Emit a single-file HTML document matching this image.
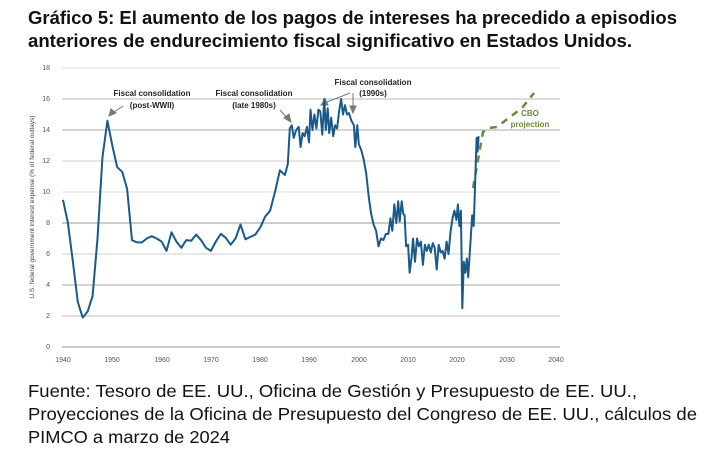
<!DOCTYPE html>
<html><head><meta charset="utf-8"><style>
body{margin:0;background:#fff;width:728px;height:462px;overflow:hidden;font-family:"Liberation Sans",sans-serif}
</style></head><body>
<svg width="728" height="462" xmlns="http://www.w3.org/2000/svg" font-family="Liberation Sans, sans-serif">
<text x="28" y="24" font-size="18" font-weight="bold" fill="#111" textLength="649" lengthAdjust="spacingAndGlyphs">Gráfico 5: El aumento de los pagos de intereses ha precedido a episodios</text>
<text x="28" y="47" font-size="18" font-weight="bold" fill="#111" textLength="604" lengthAdjust="spacingAndGlyphs">anteriores de endurecimiento fiscal significativo en Estados Unidos.</text>
<g stroke-width="1">
<line x1="62" x2="560" y1="68" y2="68" stroke="#ddd"/>
<line x1="62" x2="560" y1="99" y2="99" stroke="#bbb"/>
<line x1="62" x2="560" y1="130" y2="130" stroke="#aaa"/>
<line x1="62" x2="560" y1="161" y2="161" stroke="#ccc"/>
<line x1="62" x2="560" y1="192" y2="192" stroke="#ddd"/>
<line x1="62" x2="560" y1="223" y2="223" stroke="#999"/>
<line x1="62" x2="560" y1="254" y2="254" stroke="#ccc"/>
<line x1="62" x2="560" y1="285" y2="285" stroke="#aaa"/>
<line x1="62" x2="560" y1="316" y2="316" stroke="#bbb"/>
<line x1="62" x2="560" y1="347" y2="347" stroke="#999"/>
</g>
<g font-size="7" fill="#555" text-anchor="end">
<text x="50" y="70">18</text><text x="50" y="101">16</text><text x="50" y="132">14</text><text x="50" y="163">12</text><text x="50" y="194">10</text><text x="50" y="225">8</text><text x="50" y="256">6</text><text x="50" y="287">4</text><text x="50" y="318">2</text><text x="50" y="349">0</text>
</g>
<g font-size="7" fill="#555" text-anchor="middle">
<text x="63" y="362">1940</text><text x="112" y="362">1950</text><text x="162" y="362">1960</text><text x="211" y="362">1970</text><text x="260" y="362">1980</text><text x="309" y="362">1990</text><text x="359" y="362">2000</text><text x="408" y="362">2010</text><text x="457" y="362">2020</text><text x="507" y="362">2030</text><text x="556" y="362">2040</text>
</g>
<text transform="translate(34,207) rotate(-90)" font-size="6.5" fill="#444" text-anchor="middle">U.S. federal government interest expense (% of federal outlays)</text>
<g font-size="8" font-weight="bold" fill="#222" text-anchor="middle">
<text x="152" y="96">Fiscal consolidation</text><text x="152" y="108">(post-WWII)</text>
<text x="254" y="96">Fiscal consolidation</text><text x="254" y="108">(late 1980s)</text>
<text x="373" y="85">Fiscal consolidation</text><text x="373" y="96">(1990s)</text>
</g>
<g stroke="#777" stroke-width="1" fill="#777">
<line x1="123" y1="106" x2="114" y2="112"/><polygon points="109,116 111,109 116,113"/>
<line x1="280" y1="110" x2="287" y2="118"/><polygon points="291,122 284,118 289,114"/>
<line x1="350" y1="93" x2="327" y2="102"/><polygon points="321,105 325,99 328,105"/>
<line x1="353" y1="93" x2="353" y2="107"/><polygon points="353,113 350,106 356,106"/>
</g>
<text x="530" y="116" font-size="8" font-weight="bold" fill="#6a8a3a" text-anchor="middle">CBO</text>
<text x="530" y="127" font-size="8" font-weight="bold" fill="#6a8a3a" text-anchor="middle">projection</text>
<polyline fill="none" stroke="#6a8a3a" stroke-width="2.5" stroke-dasharray="7,6" points="473,188 478,160 483,132 489,128 497,127 510,117 522,108 534,93"/>
<polyline id="s" fill="none" stroke="#1a5a8a" stroke-width="2" stroke-linejoin="round"/>
<text x="28" y="397" font-size="17.5" fill="#111" textLength="609" lengthAdjust="spacingAndGlyphs">Fuente: Tesoro de EE. UU., Oficina de Gestión y Presupuesto de EE. UU.,</text>
<text x="28" y="420" font-size="17.5" fill="#111" textLength="669" lengthAdjust="spacingAndGlyphs">Proyecciones de la Oficina de Presupuesto del Congreso de EE. UU., cálculos de</text>
<text x="28" y="443" font-size="17.5" fill="#111" textLength="202" lengthAdjust="spacingAndGlyphs">PIMCO a marzo de 2024</text>
</svg>
<script>
var d=[[1940,9.5],[1941,8],[1942,5.5],[1943,2.9],[1944,1.9],[1945,2.3],[1946,3.3],[1947,7],[1948,12.2],[1949,14.6],[1950,13],[1951,11.6],[1952,11.3],[1953,10.2],[1954,6.9],[1955,6.75],[1956,6.75],[1957,7],[1958,7.15],[1959,7],[1960,6.8],[1961,6.2],[1962,7.4],[1963,6.8],[1964,6.4],[1965,6.9],[1966,6.85],[1967,7.25],[1968,6.9],[1969,6.4],[1970,6.2],[1971,6.8],[1972,7.3],[1973,7.05],[1974,6.6],[1975,7],[1976,7.9],[1977,6.95],[1978,7.1],[1979,7.25],[1980,7.7],[1981,8.4],[1982,8.8],[1983,10],[1984,11.4],[1985,11.1],[1985.6,11.8],[1986,14.1],[1986.4,14.3],[1986.8,13.5],[1987.3,14],[1987.8,14.2],[1988.2,12.9],[1988.6,13.8],[1989,13.6],[1989.5,14.2],[1989.9,13.2],[1990.2,15.3],[1990.6,14],[1991,15],[1991.4,14.1],[1991.8,15.3],[1992.2,15.2],[1992.6,13.7],[1993,16],[1993.3,14],[1993.7,15.4],[1994,13.8],[1994.4,14.8],[1994.8,13.6],[1995.2,14.3],[1995.6,14.1],[1996,15.2],[1996.4,16],[1996.8,15],[1997.2,15.6],[1997.6,15],[1998,15.1],[1998.5,14.6],[1999,14.3],[1999.3,12.9],[1999.7,14.3],[2000,13.1],[2000.5,12.7],[2001,12.1],[2001.5,11.2],[2002,9.7],[2002.5,8.6],[2003,7.9],[2003.5,7.5],[2004,6.5],[2004.5,7],[2005,6.9],[2005.5,7.3],[2006,7.3],[2006.4,8.3],[2006.8,7.5],[2007.2,9.2],[2007.6,8],[2008,9.4],[2008.3,8.1],[2008.7,9.4],[2009,8.6],[2009.3,8.5],[2009.6,6.5],[2010,6.6],[2010.3,4.8],[2010.7,5.8],[2011,7],[2011.4,5.5],[2011.8,7],[2012.2,6.5],[2012.6,6.8],[2013,5.3],[2013.4,6.6],[2013.8,6.2],[2014.2,6.6],[2014.6,6.1],[2015,6.7],[2015.4,6.4],[2015.8,5],[2016.2,6.6],[2016.6,6.1],[2017,6.2],[2017.4,5.7],[2017.8,6.8],[2018.2,6],[2018.6,7.4],[2019,8.3],[2019.4,8.8],[2019.8,8.2],[2020.1,9.2],[2020.4,7.8],[2020.7,8.8],[2021,2.5],[2021.3,5.5],[2021.6,4.8],[2021.9,5.7],[2022.2,4.5],[2022.6,6.5],[2023,8.5],[2023.3,7.8],[2023.6,10.5],[2023.9,13.5],[2024.1,12.6],[2024.3,13.6]];
document.getElementById('s').setAttribute('points',d.map(function(p){return (63+(p[0]-1940)*4.93).toFixed(1)+','+(347-p[1]*15.5).toFixed(1)}).join(' '));
</script>
</body></html>
